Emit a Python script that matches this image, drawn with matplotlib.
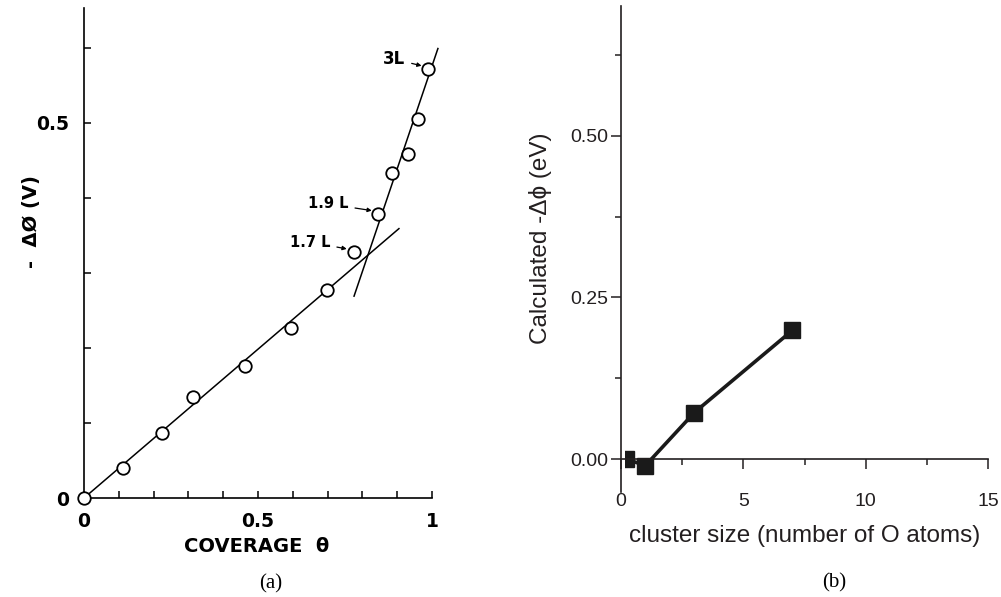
import numpy as np
import matplotlib
matplotlib.use('Agg')
import matplotlib.pyplot as plt
from matplotlib.patches import Rectangle
from matplotlib.ticker import MultipleLocator, FixedLocator

# panel (a): measured work function change vs coverage
coverage = [0.0, 0.112, 0.224, 0.313, 0.463, 0.595, 0.698, 0.776, 0.845, 0.885, 0.931, 0.960, 0.989]
dphi_meas = [0.0, 0.040, 0.087, 0.135, 0.176, 0.227, 0.277, 0.328, 0.379, 0.433, 0.459, 0.505, 0.572]
fit1_x = [0.0, 0.905]
fit1_y = [0.0, 0.359]
fit2_x = [0.776, 1.017]
fit2_y = [0.269, 0.599]
dose_labels = ['1.7 L', '1.9 L', '3L']
dose_text_xy = [(0.707, 0.341), (0.759, 0.392), (0.922, 0.585)]
dose_arrow_xy = [(0.755, 0.332), (0.827, 0.383), (0.970, 0.576)]

# panel (b): calculated work function change vs cluster size
cluster_size = [0.2, 1, 3, 7]
dphi_calc = [0.0, -0.010, 0.072, 0.199]

W, H = 1001, 597
fig = plt.figure(figsize=(W / 100, H / 100), dpi=100)

def px_axes(x0, x1, y_bottom, y_top):
    return [x0 / W, 1 - y_bottom / H, (x1 - x0) / W, (y_bottom - y_top) / H]

# ---- (a) ----
bold = dict(family='DejaVu Sans', weight='bold')
ax1 = fig.add_axes(px_axes(84, 432, 498, 8))
ax1.set_xlim(0, 1)
ax1.set_ylim(0, 0.653)
for s in ['top', 'right']:
    ax1.spines[s].set_visible(False)
for s in ['left', 'bottom']:
    ax1.spines[s].set_linewidth(1.2)
ax1.plot(fit1_x, fit1_y, color='black', lw=1.1, clip_on=False)
ax1.plot(fit2_x, fit2_y, color='black', lw=1.1, clip_on=False)
ax1.plot(coverage, dphi_meas, 'o', ms=9, mfc='white', mec='black', mew=1.3,
         clip_on=False, zorder=3)
for lab, t, a in zip(dose_labels, dose_text_xy, dose_arrow_xy):
    fs = 12 if lab == '3L' else 10.5
    ax1.annotate(lab, xy=a, xytext=t, ha='right', va='center', fontsize=fs,
                 annotation_clip=False, **bold,
                 arrowprops=dict(arrowstyle='-|>', lw=0.9, color='black',
                                 mutation_scale=6, shrinkA=3, shrinkB=0))
ax1.xaxis.set_major_locator(FixedLocator([0, 0.5, 1]))
ax1.xaxis.set_minor_locator(MultipleLocator(0.1))
ax1.yaxis.set_major_locator(FixedLocator([0, 0.5]))
ax1.yaxis.set_minor_locator(MultipleLocator(0.1))
ax1.set_xticklabels(['0', '0.5', '1'])
ax1.set_yticklabels(['0', '0.5'])
ax1.tick_params(which='both', direction='in', length=5, width=1.1)
ax1.tick_params(axis='x', pad=10)
ax1.tick_params(axis='y', pad=11)
for lab in ax1.get_xticklabels() + ax1.get_yticklabels():
    lab.set_fontsize(13.5)
    lab.set_fontweight('bold')
fig.text(257 / W, 1 - 547 / H, 'COVERAGE  θ', ha='center', va='center',
         fontsize=14, **bold)
fig.text(31 / W, 1 - 222 / H, '-  ΔØ (V)', ha='center', va='center',
         rotation=90, fontsize=14, **bold)
fig.text(271 / W, 1 - 584 / H, '(a)', ha='center', va='center',
         fontsize=15, family='Liberation Serif')

# ---- (b) ----
tc = '#231f20'
ax2 = fig.add_axes(px_axes(621, 988, 492, 6))
ax2.set_xlim(0, 15)
ax2.set_ylim(-0.051, 0.701)
for s in ['top', 'right']:
    ax2.spines[s].set_visible(False)
ax2.spines['bottom'].set_position(('data', 0))
for s in ['left', 'bottom']:
    ax2.spines[s].set_linewidth(1.2)
    ax2.spines[s].set_color(tc)
line, = ax2.plot(cluster_size, dphi_calc, '-s', color='#1a1a1a', lw=2.6,
                 ms=11.5, clip_on=True)
line.set_clip_path(Rectangle((0.17, -1), 20, 2, transform=ax2.transData))
ax2.xaxis.set_major_locator(MultipleLocator(5))
ax2.xaxis.set_minor_locator(MultipleLocator(2.5))
ax2.yaxis.set_major_locator(MultipleLocator(0.25))
ax2.yaxis.set_minor_locator(MultipleLocator(0.125))
ax2.yaxis.set_major_formatter(matplotlib.ticker.FormatStrFormatter('%.2f'))
ax2.tick_params(which='major', direction='out', length=7.5, width=1.1, colors=tc,
                labelsize=14)
ax2.tick_params(which='minor', direction='out', length=4, width=1.1, colors=tc)
ax2.tick_params(axis='x', which='major', pad=17)
ax2.tick_params(axis='y', which='major', pad=1.5)
fig.text(805 / W, 1 - 536 / H, 'cluster size (number of O atoms)', ha='center',
         va='center', fontsize=17.5, color=tc, family='Liberation Sans')
fig.text(541 / W, 1 - 238 / H, 'Calculated -Δϕ (eV)', ha='center', va='center',
         rotation=90, fontsize=17.5, color=tc, family='Liberation Sans')
for lab in ax2.get_xticklabels() + ax2.get_yticklabels():
    lab.set_family('Liberation Sans')
fig.text(834 / W, 1 - 583 / H, '(b)', ha='center', va='center',
         fontsize=15, family='Liberation Serif')

fig.savefig('out.png', dpi=100)
